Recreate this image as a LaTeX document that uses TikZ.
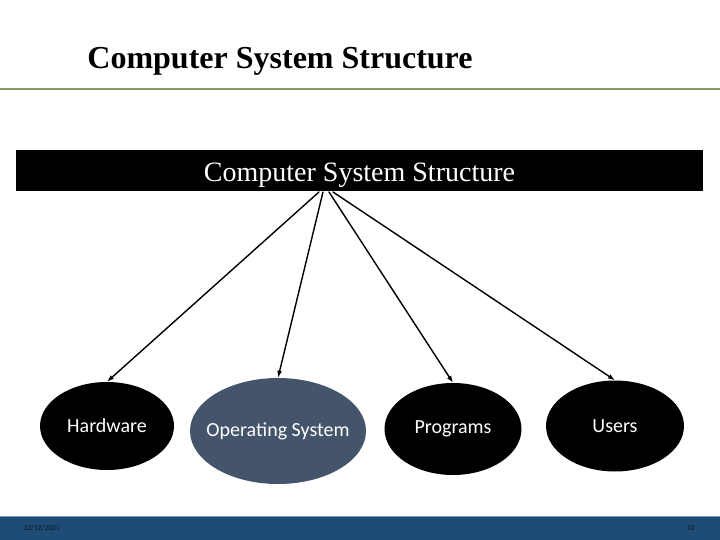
\documentclass[tikz,border=0pt]{standalone}
\usepackage{fontspec}
\setmainfont{Liberation Serif}
\newfontfamily\calibri{Carlito}
\usepackage{xcolor}
\usetikzlibrary{arrows.meta,shapes.geometric,positioning}
\definecolor{rulegreen}{RGB}{128,160,100}
\definecolor{osslate}{RGB}{68,84,106}
\definecolor{footerblue}{RGB}{31,76,118}
\definecolor{footertext}{RGB}{15,20,30}

\begin{document}
\begin{tikzpicture}[x=1pt,y=-1pt,>={Latex[length=7pt,width=5pt]},line cap=round,line join=round]
\useasboundingbox (0,0) rectangle (720,540);
\tikzset{part/.style={ellipse,fill=black,text=white,inner sep=0pt,font=\calibri\fontsize{20}{24}\selectfont},
  link/.style={->,line width=1.4pt}}
% Title
\node[anchor=center,font=\bfseries\fontsize{32}{36}\selectfont] (title) at (280,61) {Computer System Structure};
\draw[rulegreen,line width=2pt] (0,89) -- (720,89);

% Root bar
\node[fill=black,text=white,minimum width=687pt,minimum height=41pt,inner sep=0pt,
  text height=25pt,text depth=2pt,font=\fontsize{28}{32}\selectfont] (root) at (359.5,170.5) {Computer System Structure};
\coordinate (hub) at (325,192);

% Parts
\node[part,minimum width=134pt,minimum height=88pt] (hw) at (107,426) {Hardware};
\node[part,fill=osslate,inner xsep=-11pt,minimum width=176pt,minimum height=106pt] (os) at (278,431) {Operating System};
\node[part,minimum width=137pt,minimum height=92pt] (prog) at (453,429) {Programs};
\node[part,minimum width=138pt,minimum height=91pt] (users) at (615,426) {Users};
\draw[link] ([xshift=-6pt]hub) -- (hw.north);
\draw[link] ([xshift=-2pt]hub) -- (os.north);
\draw[link] ([xshift=4pt]hub) -- (prog.north);
\draw[link] ([xshift=8pt]hub) -- (users.north);

% Footer
\fill[footerblue] (0,516) rectangle (720,540);
\draw[footerblue!60!white,line width=0.8pt] (0,516) -- (720,516);
\node[anchor=west,text=footertext,font=\calibri\fontsize{7.5}{8}\selectfont] (date) at (20,528) {22/12/2021};
\node[anchor=east,text=footertext,font=\calibri\fontsize{7.5}{8}\selectfont] (page) at (698,528) {10};
\end{tikzpicture}
\end{document}
